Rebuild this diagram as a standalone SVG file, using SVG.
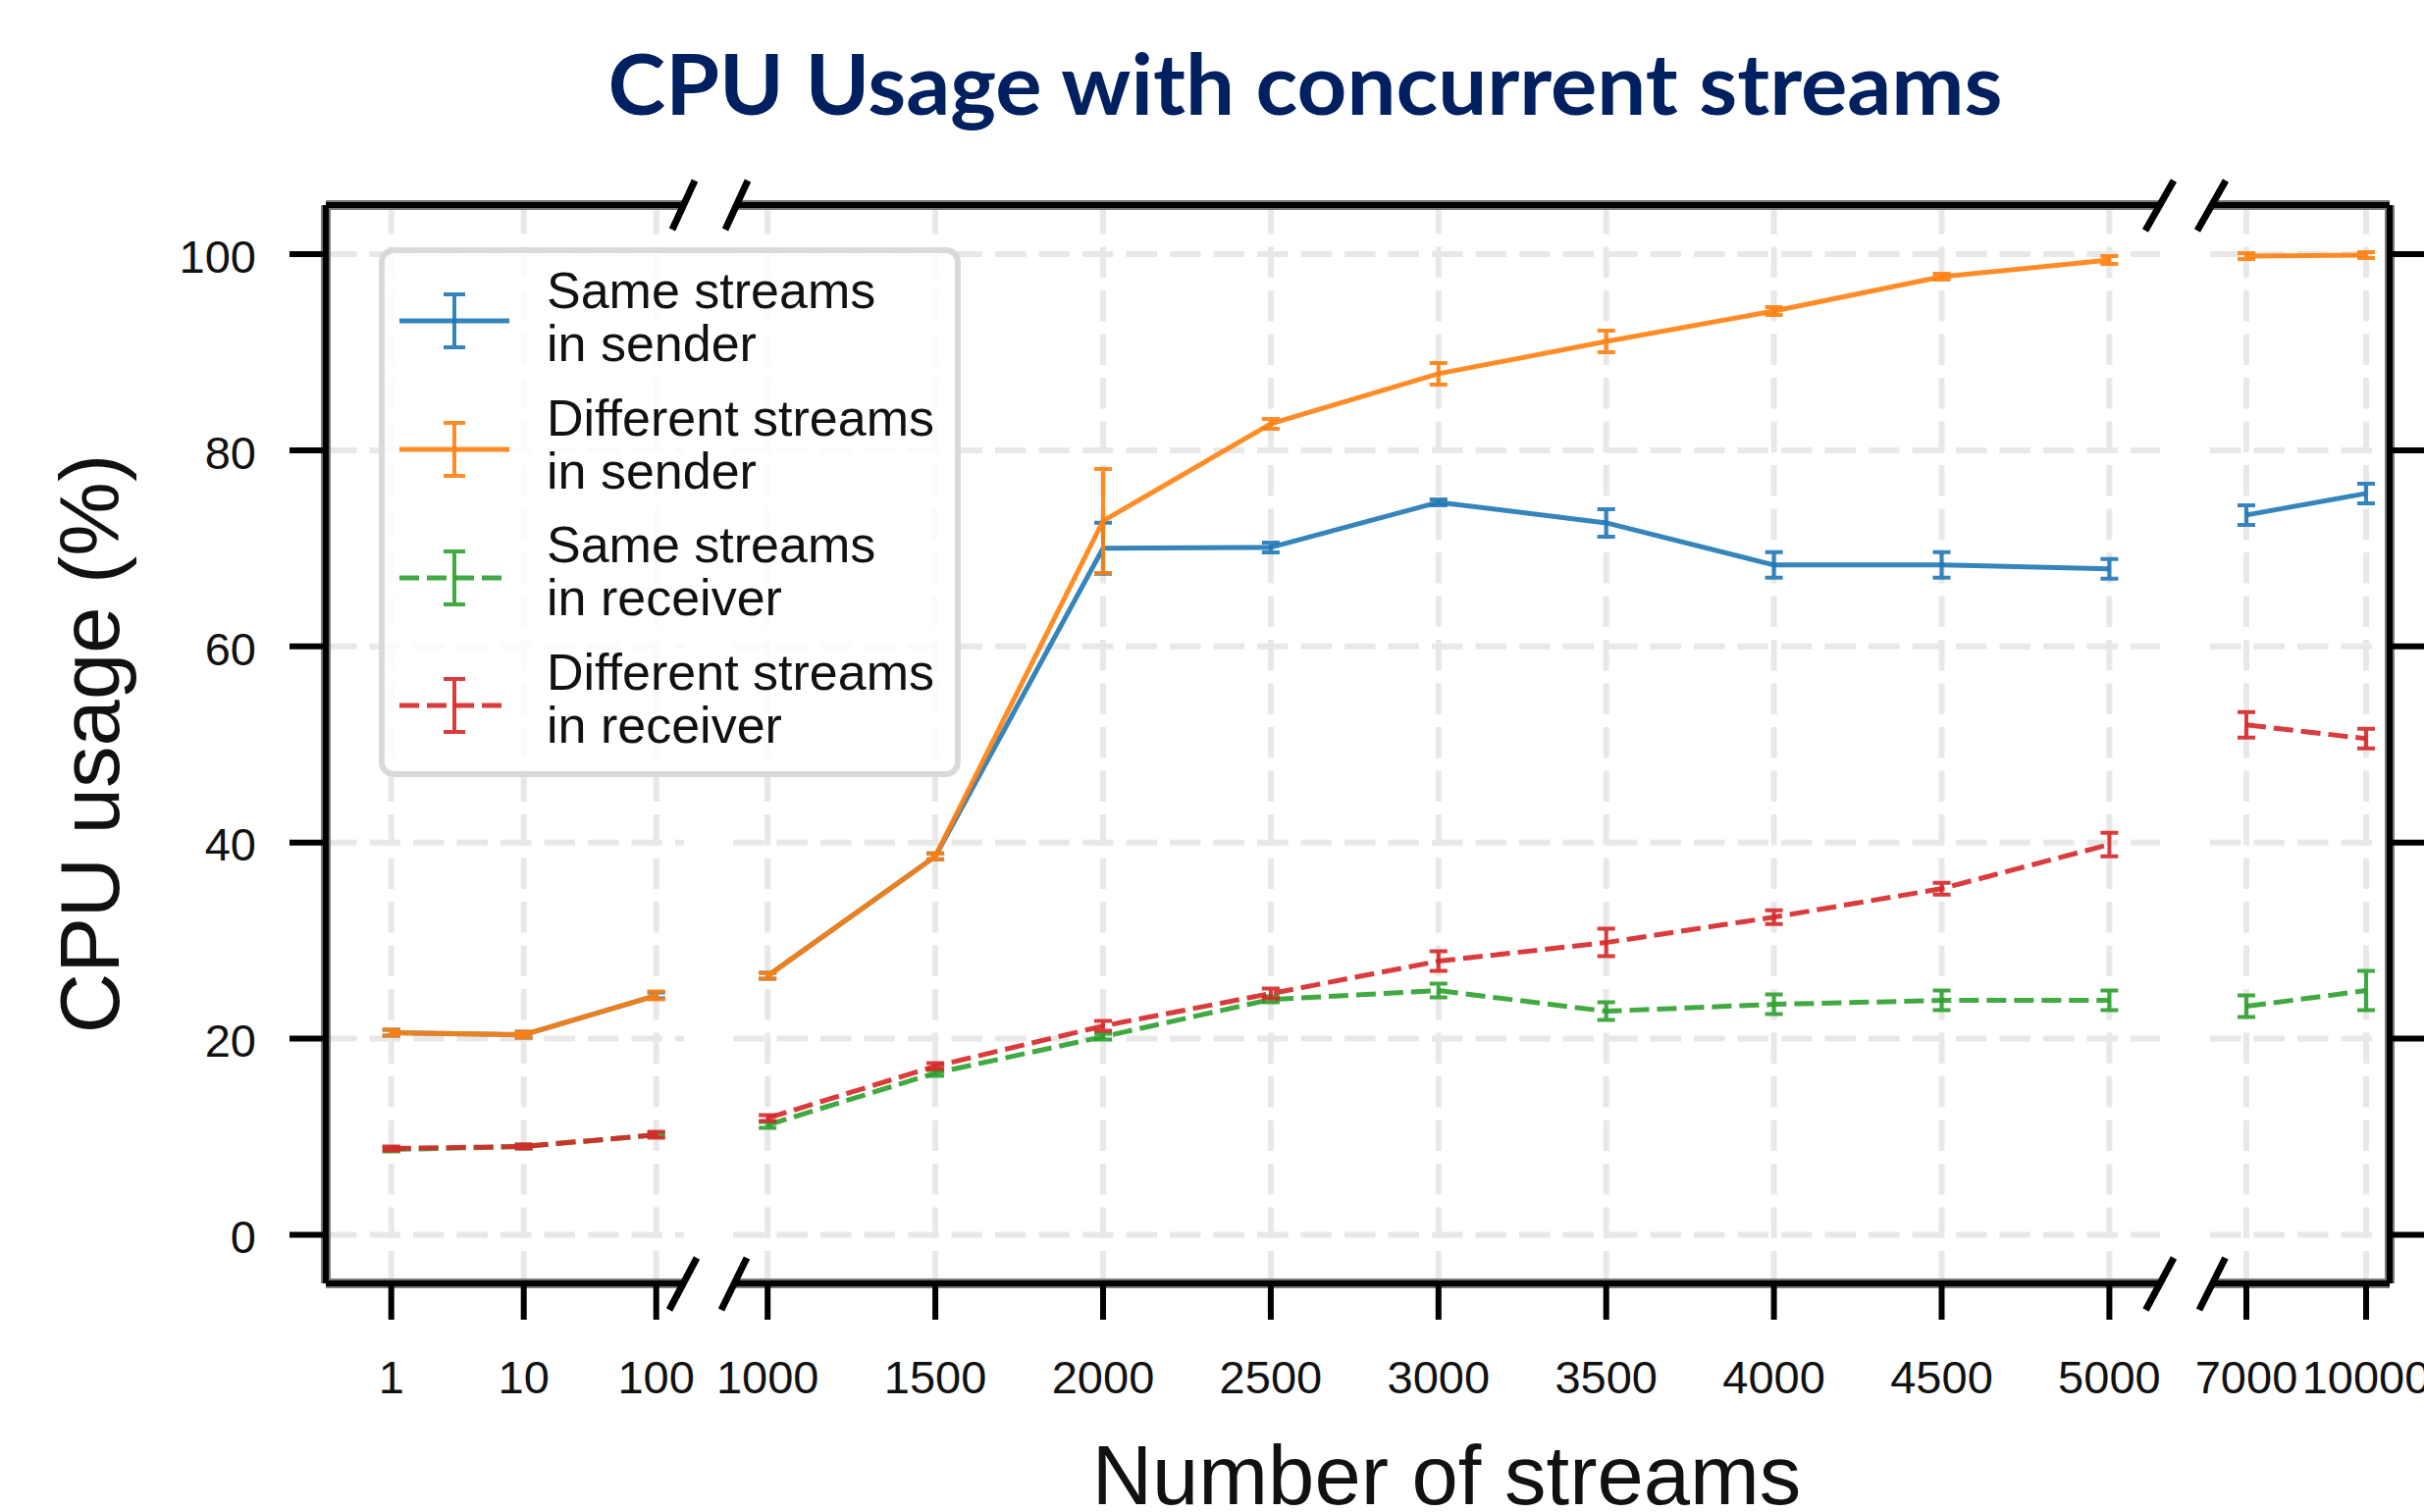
<svg xmlns="http://www.w3.org/2000/svg" width="2470" height="1541" viewBox="0 0 2470 1541">
  <style>
    .grid { fill: none; stroke: #e8e8e8; stroke-width: 6; stroke-dasharray: 31.5 13; }
    .halo { fill: none; stroke: #7a7a7a; stroke-width: 10; }
    .spine { fill: none; stroke: #000; stroke-width: 6; }
    .tick { fill: none; stroke: #000; stroke-width: 6; }
    .brk { fill: none; stroke: #000; stroke-width: 7; }
    .tl { font-family: "Liberation Sans", Arial, sans-serif; font-size: 47px; fill: #111; }
    .axl { font-family: "Liberation Sans", Arial, sans-serif; font-size: 85px; fill: #111; }
    .leg { font-family: "Liberation Sans", Arial, sans-serif; font-size: 52px; fill: #111; }
    .ln { fill: none; stroke-width: 5; stroke-linejoin: round; stroke-opacity: 0.9; }
    .eb { fill: none; stroke-width: 4; stroke-opacity: 0.9; }
    .dash { stroke-dasharray: 20 8; }
    .blue { stroke: #1f77b4; }
    .orange { stroke: #ff7f0e; }
    .green { stroke: #2ca02c; }
    .red { stroke: #d62728; }
  </style>

  <rect width="2470" height="1541" fill="#fff"/>

  <!-- Title -->
  <text id="title" x="1330" y="117" text-anchor="middle" textLength="1421" lengthAdjust="spacingAndGlyphs"
        font-family="Lato, 'Open Sans', sans-serif" font-weight="bold" font-size="87" fill="#002060">CPU Usage with concurrent streams</text>

  <!-- Grid: vertical lines at each category, horizontal lines per panel -->
  <g id="grid">
    <path class="grid" d="M398.7 207V1308M533.7 207V1308M668.7 207V1308M782.2 207V1308M953.1 207V1308M1124 207V1308M1294.9 207V1308M1465.8 207V1308M1636.7 207V1308M1807.6 207V1308M1978.5 207V1308M2149.4 207V1308M2289 207V1308M2411 207V1308"/>
    <path class="grid" d="M332 259H697M332 458.9H697M332 658.8H697M332 858.7H697M332 1058.6H697M332 1258.5H697"/>
    <path class="grid" d="M747 259H2201M747 458.9H2201M747 658.8H2201M747 858.7H2201M747 1058.6H2201M747 1258.5H2201"/>
    <path class="grid" d="M2252 259H2435M2252 458.9H2435M2252 658.8H2435M2252 858.7H2435M2252 1058.6H2435M2252 1258.5H2435"/>
  </g>

  <!-- Data series with error bars -->
  <g id="series-same-sender">
    <polyline class="ln blue" points="398.7,1052.6 533.7,1054.6 668.7,1014.6"/>
    <polyline class="ln blue" points="782.2,994.6 953.1,872.7 1124,558.8 1294.9,557.9 1465.8,511.9 1636.7,532.9 1807.6,575.8 1978.5,575.8 2149.4,579.8"/>
    <polyline class="ln blue" points="2289,524.9 2411,502.9"/>
    <path class="eb blue" d="M398.7 1049.6V1055.6M389.7 1049.6h18M389.7 1055.6h18M533.7 1051.6V1057.6M524.7 1051.6h18M524.7 1057.6h18M668.7 1011.6V1017.6M659.7 1011.6h18M659.7 1017.6h18M782.2 991.6V997.6M773.2 991.6h18M773.2 997.6h18M953.1 869.7V875.7M944.1 869.7h18M944.1 875.7h18M1124 532.8V584.8M1115 532.8h18M1115 584.8h18M1294.9 552.9V562.9M1285.9 552.9h18M1285.9 562.9h18M1465.8 508.9V514.9M1456.8 508.9h18M1456.8 514.9h18M1636.7 518.9V546.9M1627.7 518.9h18M1627.7 546.9h18M1807.6 562.8V588.8M1798.6 562.8h18M1798.6 588.8h18M1978.5 562.8V588.8M1969.5 562.8h18M1969.5 588.8h18M2149.4 569.8V589.8M2140.4 569.8h18M2140.4 589.8h18M2289 514.9V534.9M2280 514.9h18M2280 534.9h18M2411 492.9V512.9M2402 492.9h18M2402 512.9h18"/>
  </g>

  <g id="series-different-sender">
    <polyline class="ln orange" points="398.7,1052.6 533.7,1054.6 668.7,1014.6"/>
    <polyline class="ln orange" points="782.2,994.6 953.1,872.7 1124,530.9 1294.9,431.9 1465.8,380.9 1636.7,348 1807.6,317 1978.5,282 2149.4,265"/>
    <polyline class="ln orange" points="2289,261 2411,260"/>
    <path class="eb orange" d="M398.7 1049.6V1055.6M389.7 1049.6h18M389.7 1055.6h18M533.7 1051.6V1057.6M524.7 1051.6h18M524.7 1057.6h18M668.7 1010.6V1018.6M659.7 1010.6h18M659.7 1018.6h18M782.2 991.6V997.6M773.2 991.6h18M773.2 997.6h18M953.1 869.7V875.7M944.1 869.7h18M944.1 875.7h18M1124 477.9V583.9M1115 477.9h18M1115 583.9h18M1294.9 426.9V436.9M1285.9 426.9h18M1285.9 436.9h18M1465.8 369.9V391.9M1456.8 369.9h18M1456.8 391.9h18M1636.7 337V359M1627.7 337h18M1627.7 359h18M1807.6 313V321M1798.6 313h18M1798.6 321h18M1978.5 279V285M1969.5 279h18M1969.5 285h18M2149.4 261V269M2140.4 261h18M2140.4 269h18M2289 258V264M2280 258h18M2280 264h18M2411 257V263M2402 257h18M2402 263h18"/>
  </g>

  <g id="series-same-receiver">
    <polyline class="ln green dash" points="398.7,1171.5 533.7,1168.5 668.7,1156.6"/>
    <polyline class="ln green dash" points="782.2,1146.6 953.1,1093.6 1124,1056.6 1294.9,1018.6 1465.8,1009.6 1636.7,1030.6 1807.6,1023.6 1978.5,1019.6 2149.4,1019.6"/>
    <polyline class="ln green dash" points="2289,1025.6 2411,1009.6"/>
    <path class="eb green" d="M398.7 1169.5V1173.5M389.7 1169.5h18M389.7 1173.5h18M533.7 1166.5V1170.5M524.7 1166.5h18M524.7 1170.5h18M668.7 1154.6V1158.6M659.7 1154.6h18M659.7 1158.6h18M782.2 1143.6V1149.6M773.2 1143.6h18M773.2 1149.6h18M953.1 1090.6V1096.6M944.1 1090.6h18M944.1 1096.6h18M1124 1053.6V1059.6M1115 1053.6h18M1115 1059.6h18M1294.9 1015.6V1021.6M1285.9 1015.6h18M1285.9 1021.6h18M1465.8 1002.6V1016.6M1456.8 1002.6h18M1456.8 1016.6h18M1636.7 1021.6V1039.6M1627.7 1021.6h18M1627.7 1039.6h18M1807.6 1013.6V1033.6M1798.6 1013.6h18M1798.6 1033.6h18M1978.5 1009.6V1029.6M1969.5 1009.6h18M1969.5 1029.6h18M2149.4 1009.6V1029.6M2140.4 1009.6h18M2140.4 1029.6h18M2289 1014.6V1036.6M2280 1014.6h18M2280 1036.6h18M2411 989.6V1029.6M2402 989.6h18M2402 1029.6h18"/>
  </g>

  <g id="series-different-receiver">
    <polyline class="ln red dash" points="398.7,1170.5 533.7,1168.5 668.7,1156.6"/>
    <polyline class="ln red dash" points="782.2,1139.6 953.1,1086.6 1124,1045.6 1294.9,1012.6 1465.8,979.6 1636.7,960.6 1807.6,934.7 1978.5,905.7 2149.4,860.7"/>
    <polyline class="ln red dash" points="2289,738.8 2411,752.8"/>
    <path class="eb red" d="M398.7 1168.5V1172.5M389.7 1168.5h18M389.7 1172.5h18M533.7 1166.5V1170.5M524.7 1166.5h18M524.7 1170.5h18M668.7 1153.6V1159.6M659.7 1153.6h18M659.7 1159.6h18M782.2 1136.6V1142.6M773.2 1136.6h18M773.2 1142.6h18M953.1 1083.6V1089.6M944.1 1083.6h18M944.1 1089.6h18M1124 1040.6V1050.6M1115 1040.6h18M1115 1050.6h18M1294.9 1007.6V1017.6M1285.9 1007.6h18M1285.9 1017.6h18M1465.8 969.6V989.6M1456.8 969.6h18M1456.8 989.6h18M1636.7 946.6V974.6M1627.7 946.6h18M1627.7 974.6h18M1807.6 927.7V941.7M1798.6 927.7h18M1798.6 941.7h18M1978.5 899.7V911.7M1969.5 899.7h18M1969.5 911.7h18M2149.4 848.7V872.7M2140.4 848.7h18M2140.4 872.7h18M2289 725.8V751.8M2280 725.8h18M2280 751.8h18M2411 742.8V762.8M2402 742.8h18M2402 762.8h18"/>
  </g>

  <!-- Axes frame, split into three panels -->
  <g id="frame">
    <path class="halo" d="M332 209V1308M2435 209V1308M332 209H697M750 209H2201M2254 209H2435M332 1308H697M748 1308H2201M2254 1308H2435"/>
    <path class="spine" d="M332 209V1308M2435 209V1308M332 209H697M750 209H2201M2254 209H2435M332 1308H697M748 1308H2201M2254 1308H2435"/>
    <path class="brk" d="M708 184L685 234M762 184L739 234M2215 184L2186 235M2268 184L2239 235M710 1282L682 1335M761 1282L735 1335M2215 1282L2186.5 1335M2267.5 1282L2241 1335"/>
  </g>

  <!-- Ticks -->
  <g id="ticks">
    <path class="tick" d="M295 259H332M295 458.9H332M295 658.8H332M295 858.7H332M295 1058.6H332M295 1258.5H332"/>
    <path class="tick" d="M2435 259H2470M2435 458.9H2470M2435 658.8H2470M2435 858.7H2470M2435 1058.6H2470M2435 1258.5H2470"/>
    <path class="tick" d="M398.7 1308V1345M533.7 1308V1345M668.7 1308V1345M782.2 1308V1345M953.1 1308V1345M1124 1308V1345M1294.9 1308V1345M1465.8 1308V1345M1636.7 1308V1345M1807.6 1308V1345M1978.5 1308V1345M2149.4 1308V1345M2289 1308V1345M2411 1308V1345"/>
  </g>

  <!-- Tick labels -->
  <g id="y-tick-labels" class="tl" text-anchor="end">
    <text x="261" y="278">100</text>
    <text x="261" y="478">80</text>
    <text x="261" y="678">60</text>
    <text x="261" y="877">40</text>
    <text x="261" y="1077">20</text>
    <text x="261" y="1277">0</text>
  </g>
  <g id="x-tick-labels" class="tl" text-anchor="middle">
    <text x="398.7" y="1420">1</text>
    <text x="533.7" y="1420">10</text>
    <text x="668.7" y="1420">100</text>
    <text x="782.2" y="1420">1000</text>
    <text x="953.1" y="1420">1500</text>
    <text x="1124" y="1420">2000</text>
    <text x="1294.9" y="1420">2500</text>
    <text x="1465.8" y="1420">3000</text>
    <text x="1636.7" y="1420">3500</text>
    <text x="1807.6" y="1420">4000</text>
    <text x="1978.5" y="1420">4500</text>
    <text x="2149.4" y="1420">5000</text>
    <text x="2289" y="1420">7000</text>
    <text x="2411" y="1420">10000</text>
  </g>

  <!-- Axis labels -->
  <text id="x-label" class="axl" x="1474" y="1533" text-anchor="middle">Number of streams</text>
  <text id="y-label" class="axl" font-size="86" text-anchor="middle" transform="translate(121 758) rotate(-90)">CPU usage (%)</text>

  <!-- Legend -->
  <g id="legend">
    <rect x="389" y="255" width="587" height="534" rx="12" fill="#fff" fill-opacity="0.8" stroke="#d9d9d9" stroke-width="6"/>
    <g id="legend-same-sender">
      <path class="ln blue" d="M407 327H519"/>
      <path class="eb blue" d="M463 300V354M452 300h22M452 354h22"/>
      <text class="leg" x="557" y="314">Same streams</text>
      <text class="leg" x="557" y="368">in sender</text>
    </g>
    <g id="legend-different-sender">
      <path class="ln orange" d="M407 458H519"/>
      <path class="eb orange" d="M463 431V485M452 431h22M452 485h22"/>
      <text class="leg" x="557" y="444">Different streams</text>
      <text class="leg" x="557" y="498">in sender</text>
    </g>
    <g id="legend-same-receiver">
      <path class="ln green dash" d="M407 589H519"/>
      <path class="eb green" d="M463 562V616M452 562h22M452 616h22"/>
      <text class="leg" x="557" y="573">Same streams</text>
      <text class="leg" x="557" y="627">in receiver</text>
    </g>
    <g id="legend-different-receiver">
      <path class="ln red dash" d="M407 719H519"/>
      <path class="eb red" d="M463 692V746M452 692h22M452 746h22"/>
      <text class="leg" x="557" y="703">Different streams</text>
      <text class="leg" x="557" y="757">in receiver</text>
    </g>
  </g>
</svg>
